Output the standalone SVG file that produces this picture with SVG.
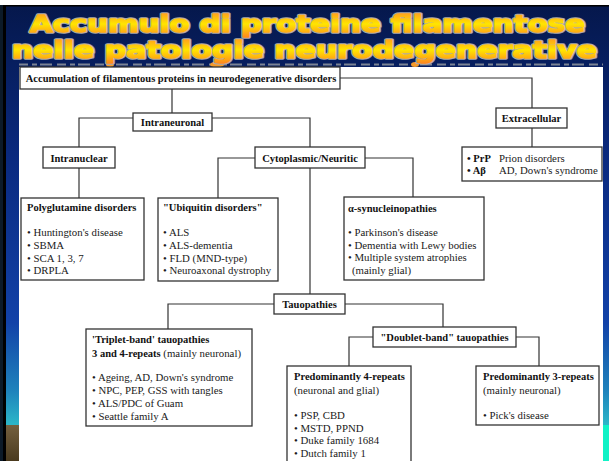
<svg xmlns="http://www.w3.org/2000/svg" width="609" height="461" viewBox="0 0 609 461">
<defs>
<linearGradient id="bg" x1="0" y1="0" x2="0" y2="1">
<stop offset="0" stop-color="#05174a"/>
<stop offset="0.35" stop-color="#0a2a80"/>
<stop offset="0.7" stop-color="#1242a8"/>
<stop offset="0.85" stop-color="#1f84bc"/>
<stop offset="0.92" stop-color="#2cb6c8"/>
<stop offset="1" stop-color="#2cb6c8"/>
</linearGradient>
<linearGradient id="brown" x1="0" y1="0" x2="0" y2="1">
<stop offset="0" stop-color="#74603f"/>
<stop offset="1" stop-color="#4a3a1e"/>
</linearGradient>
<linearGradient id="title" x1="0" y1="0" x2="0" y2="1">
<stop offset="0" stop-color="#ff9320"/>
<stop offset="0.5" stop-color="#ffe600"/>
<stop offset="1" stop-color="#ff8a1c"/>
</linearGradient>
<style>
.ttl{font-family:"DejaVu Sans",sans-serif;font-weight:bold;font-size:23px;}
.ttl-o{fill:#a8a8a8;stroke:#a8a8a8;stroke-width:3.6;stroke-linejoin:round;}
.ttl-f{fill:url(#title);stroke:url(#title);stroke-width:1.4;stroke-linejoin:round;}
.box{fill:#fff;stroke:#333;stroke-width:1.3;}
.b{font-family:"Liberation Serif","Times New Roman",serif;font-weight:bold;font-size:10.5px;fill:#111;}
.r{font-family:"Liberation Serif","Times New Roman",serif;font-size:10.8px;fill:#1a1a1a;}
.c{text-anchor:middle;}
.ln{fill:none;stroke:#333;stroke-width:1.2;}
</style>
</defs>
<!-- background -->
<rect x="0" y="0" width="609" height="461" fill="url(#bg)"/>
<rect x="0" y="0" width="609" height="5" fill="#fff"/>
<rect x="0" y="5" width="609" height="1.5" fill="#000"/>
<rect x="0" y="5" width="3" height="456" fill="#0c1a28"/>
<rect x="3" y="5" width="3" height="456" fill="#000"/>
<rect x="6" y="425" width="13" height="36" fill="url(#brown)"/>
<rect x="603" y="425" width="6" height="36" fill="#10f2c6"/>
<line x1="19" y1="64.5" x2="603" y2="64.5" stroke="#7c8494" stroke-width="2" stroke-dasharray="9 4 5 3 12 5"/>
<ellipse cx="110" cy="64.5" rx="4" ry="2.5" fill="#f39a2a"/>
<ellipse cx="217" cy="64.5" rx="7" ry="3" fill="#f39a2a"/>
<ellipse cx="415" cy="64.5" rx="4" ry="2.5" fill="#f39a2a"/>
<rect x="19" y="67" width="584" height="394" fill="#fff"/>

<!-- title -->
<g id="title-text">
<g class="ttl ttl-o" aria-hidden="true">
<text x="30" y="32" textLength="555" lengthAdjust="spacingAndGlyphs">Accumulo di proteine filamentose</text>
<text x="12" y="58" textLength="585" lengthAdjust="spacingAndGlyphs">nelle patologie neurodegenerative</text>
</g>
<g class="ttl ttl-f">
<text x="30" y="32" textLength="555" lengthAdjust="spacingAndGlyphs">Accumulo di proteine filamentose</text>
<text x="12" y="58" textLength="585" lengthAdjust="spacingAndGlyphs">nelle patologie neurodegenerative</text>
</g>
</g>

<!-- connectors -->
<g id="connectors">
<polyline class="ln" points="340,78 532,78 532,108"/>
<line class="ln" x1="172" y1="89" x2="172" y2="113"/>
<line class="ln" x1="532" y1="128" x2="532" y2="147"/>
<polyline class="ln" points="133,118 79,118 79,147"/>
<polyline class="ln" points="212,118 310,118 310,147"/>
<line class="ln" x1="79" y1="168" x2="79" y2="198"/>
<polyline class="ln" points="255,158 218,158 218,198"/>
<polyline class="ln" points="365,158 413,158 413,197"/>
<line class="ln" x1="310" y1="168" x2="310" y2="294"/>
<polyline class="ln" points="274,304 168,304 168,329"/>
<polyline class="ln" points="345,304 443,304 443,327"/>
<polyline class="ln" points="373,337 349,337 349,366"/>
<polyline class="ln" points="516,337 539,337 539,366"/>
</g>

<g id="n-accumulation">
<rect class="box" x="20" y="67" width="320" height="22"/>
<text class="b c" x="181" y="82">Accumulation of filamentous proteins in neurodegenerative disorders</text>
</g>
<g id="n-extracellular">
<rect class="box" x="496" y="108" width="71" height="20"/>
<text class="b c" x="531.5" y="122">Extracellular</text>
</g>
<g id="n-prp">
<rect class="box" x="462" y="147" width="140" height="34"/>
<text class="b" x="467" y="161.5">• PrP</text>
<text class="r" x="499" y="161.5">Prion disorders</text>
<text class="b" x="467" y="174">• Aβ</text>
<text class="r" x="499" y="174">AD, Down's syndrome</text>
</g>
<g id="n-intraneuronal">
<rect class="box" x="133" y="113" width="79" height="18"/>
<text class="b c" x="172.5" y="126">Intraneuronal</text>
</g>
<g id="n-intranuclear">
<rect class="box" x="43" y="147" width="72" height="21"/>
<text class="b c" x="79" y="161.5">Intranuclear</text>
</g>
<g id="n-cytoplasmic">
<rect class="box" x="255" y="147" width="110" height="21"/>
<text class="b c" x="310" y="161.5">Cytoplasmic/Neuritic</text>
</g>
<g id="n-polyglutamine">
<rect class="box" x="21" y="198" width="123" height="82"/>
<text class="b" x="27" y="211">Polyglutamine disorders</text>
<text class="r" x="27" y="236">• Huntington's disease</text>
<text class="r" x="27" y="249">• SBMA</text>
<text class="r" x="27" y="261.5">• SCA 1, 3, 7</text>
<text class="r" x="27" y="274">• DRPLA</text>
</g>
<g id="n-ubiquitin">
<rect class="box" x="158" y="198" width="120" height="83"/>
<text class="b" x="163" y="211">"Ubiquitin disorders"</text>
<text class="r" x="163" y="236">• ALS</text>
<text class="r" x="163" y="249">• ALS-dementia</text>
<text class="r" x="163" y="261.5">• FLD (MND-type)</text>
<text class="r" x="163" y="274">• Neuroaxonal dystrophy</text>
</g>
<g id="n-synuclein">
<rect class="box" x="344" y="197" width="140" height="83"/>
<text class="b" x="348" y="212">α-synucleinopathies</text>
<text class="r" x="348" y="236">• Parkinson's disease</text>
<text class="r" x="348" y="248.5">• Dementia with Lewy bodies</text>
<text class="r" x="348" y="261">• Multiple system atrophies</text>
<text class="r" x="352" y="274">(mainly glial)</text>
</g>
<g id="n-tauopathies">
<rect class="box" x="274" y="294" width="71" height="20"/>
<text class="b c" x="309.5" y="308">Tauopathies</text>
</g>
<g id="n-triplet">
<rect class="box" x="86" y="329" width="166" height="97"/>
<text class="b" x="92" y="343">'Triplet-band' tauopathies</text>
<text x="92" y="357"><tspan class="b">3 and 4-repeats</tspan><tspan class="r"> (mainly neuronal)</tspan></text>
<text class="r" x="92" y="381">• Ageing, AD, Down's syndrome</text>
<text class="r" x="92" y="394">• NPC, PEP, GSS with tangles</text>
<text class="r" x="92" y="407">• ALS/PDC of Guam</text>
<text class="r" x="92" y="420">• Seattle family A</text>
</g>
<g id="n-doublet">
<rect class="box" x="373" y="327" width="143" height="20"/>
<text class="b c" x="444.5" y="341">"Doublet-band" tauopathies</text>
</g>
<g id="n-4repeats">
<rect class="box" x="287" y="366" width="124" height="110"/>
<text class="b" x="294" y="380">Predominantly 4-repeats</text>
<text class="r" x="294" y="394">(neuronal and glial)</text>
<text class="r" x="294" y="419">• PSP, CBD</text>
<text class="r" x="294" y="431.5">• MSTD, PPND</text>
<text class="r" x="294" y="444">• Duke family 1684</text>
<text class="r" x="294" y="457">• Dutch family 1</text>
</g>
<g id="n-3repeats">
<rect class="box" x="476" y="366" width="123" height="59"/>
<text class="b" x="483" y="380">Predominantly 3-repeats</text>
<text class="r" x="483" y="394">(mainly neuronal)</text>
<text class="r" x="483" y="419">• Pick's disease</text>
</g>
</svg>
